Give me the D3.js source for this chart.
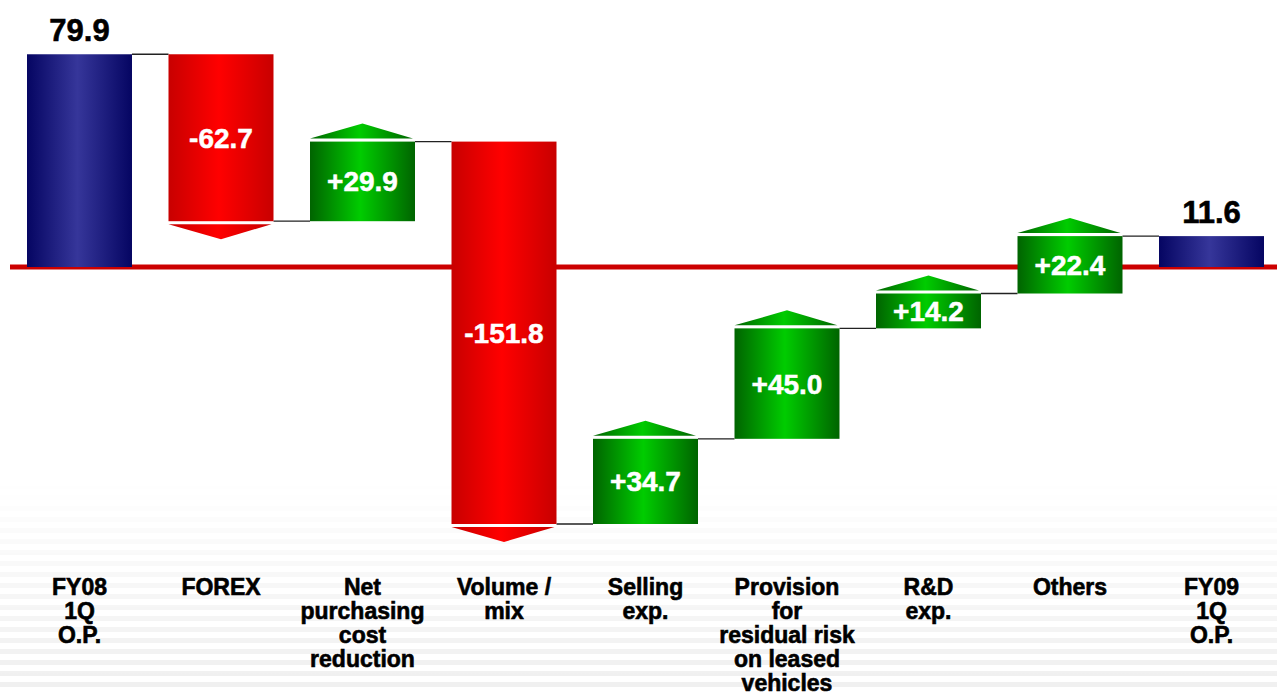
<!DOCTYPE html>
<html>
<head>
<meta charset="utf-8">
<script src="https://cdn.jsdelivr.net/npm/d3@7"></script>
<style>
  html, body { margin: 0; padding: 0; background: #ffffff; }
  svg { display: block; }
</style>
</head>
<body>
<svg id="chart" width="1277" height="693"></svg>
<script>
// ---- data ----
const categories = [
  ["FY08", "1Q", "O.P."],
  ["FOREX"],
  ["Net", "purchasing", "cost", "reduction"],
  ["Volume /", "mix"],
  ["Selling", "exp."],
  ["Provision", "for", "residual risk", "on leased", "vehicles"],
  ["R&D", "exp."],
  ["Others"],
  ["FY09", "1Q", "O.P."]
];
const values = [79.9, -62.7, 29.9, -151.8, 34.7, 45.0, 14.2, 22.4, 11.6];
const kinds = ["total", "delta", "delta", "delta", "delta", "delta", "delta", "delta", "total"];
const valueLabels = ["79.9", "-62.7", "+29.9", "-151.8", "+34.7", "+45.0", "+14.2", "+22.4", "11.6"];

// ---- layout ----
const W = 1277, H = 693;
const svg = d3.select("#chart");

// running waterfall
let run = 0;
const rows = values.map((v, i) => {
  let start, end;
  if (kinds[i] === "total") { start = 0; end = v; run = v; }
  else { start = run; end = run + v; run = end; }
  return { i, v, kind: kinds[i], start, end, label: valueLabels[i], cat: categories[i] };
});

const x = d3.scaleBand()
  .domain(d3.range(categories.length))
  .range([27, 1264])
  .paddingInner(0.258)
  .paddingOuter(0);

const y = d3.scaleLinear()
  .domain([-110, 0, 80])
  .range([537, 267, 54]);

const defs = svg.append("defs");
function hGrad(id, edge, mid) {
  const g = defs.append("linearGradient").attr("id", id)
    .attr("x1", "0%").attr("x2", "100%").attr("y1", "0%").attr("y2", "0%");
  g.append("stop").attr("offset", "0%").attr("stop-color", edge);
  g.append("stop").attr("offset", "48%").attr("stop-color", mid);
  g.append("stop").attr("offset", "100%").attr("stop-color", edge);
}
hGrad("gBlue", "#050562", "#36369a");
hGrad("gRed", "#c80000", "#ff0000");
hGrad("gGreen", "#006400", "#00cc00");

// background stripes at bottom
const fade = defs.append("linearGradient").attr("id", "fade")
  .attr("x1", "0").attr("x2", "0").attr("y1", "0").attr("y2", "1");
fade.append("stop").attr("offset", "0%").attr("stop-color", "#fff").attr("stop-opacity", 0);
fade.append("stop").attr("offset", "100%").attr("stop-color", "#fff").attr("stop-opacity", 1);
const mask = defs.append("mask").attr("id", "fadeMask");
mask.append("rect").attr("x", 0).attr("y", 480).attr("width", W).attr("height", H - 480).attr("fill", "url(#fade)");
const pat = defs.append("pattern").attr("id", "stripes")
  .attr("patternUnits", "userSpaceOnUse").attr("width", 20).attr("height", 11);
pat.append("rect").attr("width", 20).attr("height", 11).attr("fill", "#ffffff");
pat.append("rect").attr("y", 0).attr("width", 20).attr("height", 5).attr("fill", "#efefef");
svg.append("rect").attr("x", 0).attr("y", 480).attr("width", W).attr("height", H - 480)
  .attr("fill", "url(#stripes)").attr("mask", "url(#fadeMask)");

// zero line
svg.append("rect")
  .attr("x", 10).attr("width", W - 10)
  .attr("y", y(0) - 2.5).attr("height", 5)
  .attr("fill", "#cc0000");
svg.append("line")
  .attr("x1", 10).attr("x2", W).attr("y1", y(0) - 2.5).attr("y2", y(0) - 2.5)
  .attr("stroke", "#e88080").attr("stroke-width", 1);

// connectors
for (let k = 0; k < rows.length - 1; k++) {
  const a = rows[k];
  svg.append("line")
    .attr("x1", x(k) + x.bandwidth()).attr("x2", x(k + 1))
    .attr("y1", y(a.end)).attr("y2", y(a.end))
    .attr("stroke", "#222").attr("stroke-width", 1.3);
}

// bars
const fillFor = d => d.kind === "total" ? "url(#gBlue)" : (d.v < 0 ? "url(#gRed)" : "url(#gGreen)");
svg.selectAll("rect.bar").data(rows).enter().append("rect")
  .attr("class", "bar")
  .attr("x", d => x(d.i))
  .attr("width", x.bandwidth())
  .attr("y", d => y(Math.max(d.start, d.end)))
  .attr("height", d => Math.abs(y(d.start) - y(d.end)))
  .attr("fill", fillFor);

// arrow heads
const gap = 3, th = 15;
svg.selectAll("path.arrow").data(rows.filter(d => d.kind === "delta")).enter().append("path")
  .attr("class", "arrow")
  .attr("fill", fillFor)
  .attr("d", d => {
    const x0 = x(d.i), x1 = x0 + x.bandwidth() - 2, xm = x0 + x.bandwidth() / 2;
    if (d.v > 0) {
      const yb = y(d.end) - gap;
      return `M${x0},${yb}L${xm},${yb - th}L${x1},${yb}Z`;
    } else {
      const yb = y(d.end) + gap;
      return `M${x0},${yb}L${xm},${yb + th}L${x1},${yb}Z`;
    }
  });

// value labels
const font = "'Liberation Sans', Arial, Helvetica, sans-serif";
svg.selectAll("text.inbar").data(rows.filter(d => d.kind === "delta")).enter().append("text")
  .attr("class", "inbar")
  .attr("x", d => x(d.i) + x.bandwidth() / 2)
  .attr("y", d => (y(d.start) + y(d.end)) / 2 + 10)
  .attr("text-anchor", "middle")
  .attr("font-family", font).attr("font-weight", "bold").attr("font-size", 28)
  .attr("fill", "#ffffff").attr("stroke", "#ffffff").attr("stroke-width", 0.5)
  .text(d => d.label);

svg.selectAll("text.total").data(rows.filter(d => d.kind === "total")).enter().append("text")
  .attr("class", "total")
  .attr("x", d => x(d.i) + x.bandwidth() / 2)
  .attr("y", d => y(d.end) - 13)
  .attr("text-anchor", "middle")
  .attr("font-family", font).attr("font-weight", "bold").attr("font-size", 31)
  .attr("fill", "#000000").attr("stroke", "#000000").attr("stroke-width", 0.6)
  .text(d => d.label);

// category labels
const cat = svg.selectAll("text.cat").data(rows).enter().append("text")
  .attr("class", "cat")
  .attr("x", d => x(d.i) + x.bandwidth() / 2)
  .attr("y", 595)
  .attr("text-anchor", "middle")
  .attr("font-family", font).attr("font-weight", "bold").attr("font-size", 23)
  .attr("fill", "#000000").attr("stroke", "#000000").attr("stroke-width", 0.6);
cat.each(function(d) {
  const t = d3.select(this);
  d.cat.forEach((line, j) => {
    t.append("tspan")
      .attr("x", x(d.i) + x.bandwidth() / 2)
      .attr("dy", j === 0 ? 0 : 24)
      .text(line);
  });
});
</script>
</body>
</html>
